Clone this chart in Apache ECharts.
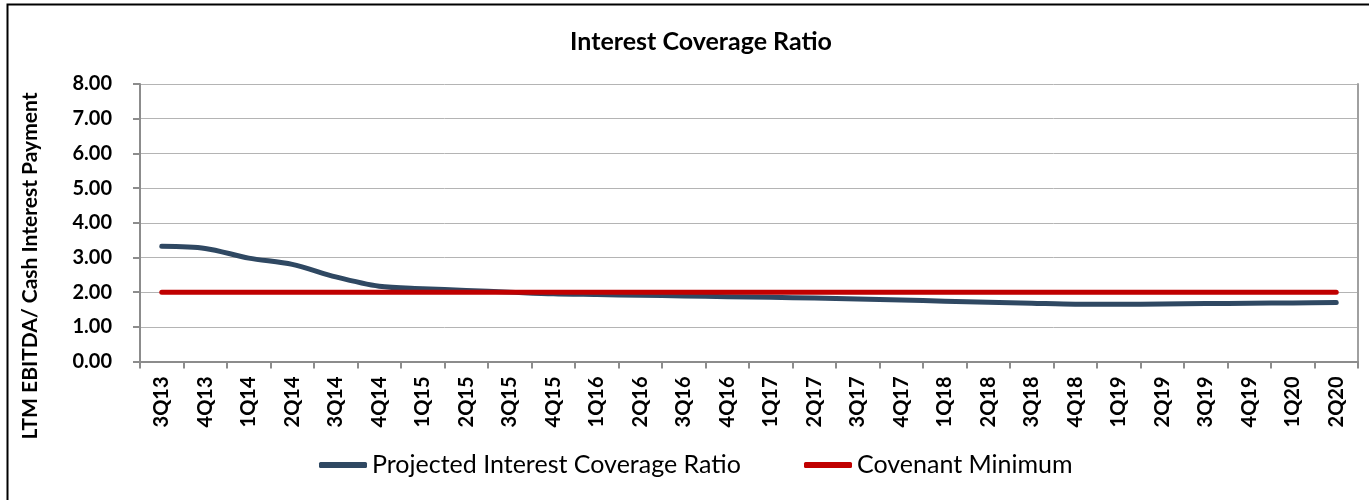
<!DOCTYPE html>
<html>
<head>
<meta charset="utf-8">
<script src="https://cdn.jsdelivr.net/npm/echarts@6/dist/echarts.min.js"></script>
<style>
html,body{margin:0;padding:0;background:#fff;}
#chart{width:1369px;height:500px;}
</style>
</head>
<body>
<div id="chart"></div>
<script>
var categories = ['3Q13','4Q13','1Q14','2Q14','3Q14','4Q14','1Q15','2Q15','3Q15','4Q15','1Q16','2Q16','3Q16','4Q16','1Q17','2Q17','3Q17','4Q17','1Q18','2Q18','3Q18','4Q18','1Q19','2Q19','3Q19','4Q19','1Q20','2Q20'];
var projectedRatio = [3.32,3.26,2.98,2.80,2.44,2.17,2.10,2.05,2.00,1.95,1.93,1.91,1.89,1.87,1.85,1.83,1.80,1.77,1.74,1.71,1.68,1.65,1.65,1.66,1.67,1.68,1.69,1.70];
var covenantMinimum = [2.00,2.00,2.00,2.00,2.00,2.00,2.00,2.00,2.00,2.00,2.00,2.00,2.00,2.00,2.00,2.00,2.00,2.00,2.00,2.00,2.00,2.00,2.00,2.00,2.00,2.00,2.00,2.00];
var seriesNames = ['Projected Interest Coverage Ratio','Covenant Minimum'];
var titleText = 'Interest Coverage Ratio';
var yAxisName = 'LTM EBITDA/ Cash Interest Payment';

var FONT = 'Lato, "Open Sans", sans-serif';
var chart = echarts.init(document.getElementById('chart'), null, {renderer:'canvas'});
chart.setOption({
  animation:false,
  backgroundColor:'#fff',
  title:{
    text:titleText, left:696, top:24, textAlign:'center',
    textStyle:{fontFamily:FONT, fontWeight:'bold', fontSize:25, color:'#000'}
  },
  legend:[{
    data:[seriesNames[0]], left:319, top:451, padding:0, itemWidth:48, itemHeight:6, icon:'roundRect',
    textStyle:{fontFamily:FONT, fontSize:25, color:'#000', lineHeight:28}
  },{
    data:[seriesNames[1]], left:804, top:451, padding:0, itemWidth:48, itemHeight:6, icon:'roundRect',
    textStyle:{fontFamily:FONT, fontSize:25, color:'#000', lineHeight:28}
  }],
  grid:{left:140, right:11, top:84, bottom:138.5, containLabel:false},
  xAxis:{
    type:'category', data:categories, boundaryGap:true,
    axisLine:{show:true, lineStyle:{color:'#8c8c8c', width:2}},
    axisTick:{show:true, alignWithLabel:false, length:7, lineStyle:{color:'#8c8c8c', width:2}},
    axisLabel:{interval:0, rotate:90, margin:15, fontFamily:FONT, fontWeight:'bold', fontSize:20, color:'#000'},
    splitLine:{show:false}
  },
  yAxis:[{
    type:'value', min:0, max:8, interval:1,
    axisLine:{show:true, lineStyle:{color:'#8c8c8c', width:2}},
    axisTick:{show:true, length:7, lineStyle:{color:'#8c8c8c', width:2}},
    axisLabel:{margin:28, fontFamily:FONT, fontWeight:'bold', fontSize:20, color:'#000',
      formatter:function(v){return v.toFixed(2);}},
    splitLine:{show:true, lineStyle:{color:'#b4b4b4', width:1}}
  },{
    type:'value', min:0, max:8, interval:1, position:'right',
    axisLine:{show:true, lineStyle:{color:'#a0a0a0', width:2}},
    axisTick:{show:false}, axisLabel:{show:false}, splitLine:{show:false}
  }],
  graphic:[{
    type:'rect', silent:true, z:-1,
    shape:{x:7.5, y:4.5, width:1500, height:1000},
    style:{fill:null, stroke:'#000', lineWidth:2}
  },{
    type:'text', silent:true, x:30, y:266, rotation:Math.PI/2,
    style:{text:yAxisName, fontFamily:FONT, fontWeight:'bold', fontSize:21, fill:'#000',
      textAlign:'center', textVerticalAlign:'middle'}
  }],
  series:[{
    name:seriesNames[0], type:'line', data:projectedRatio, smooth:0.3, showSymbol:false, symbol:'none',
    lineStyle:{color:'#2f4862', width:5, cap:'round', join:'round'}, itemStyle:{color:'#2f4862'}
  },{
    name:seriesNames[1], type:'line', data:covenantMinimum, showSymbol:false, symbol:'none',
    lineStyle:{color:'#c00000', width:5, cap:'round'}, itemStyle:{color:'#c00000'}
  }]
});
</script>
</body>
</html>
